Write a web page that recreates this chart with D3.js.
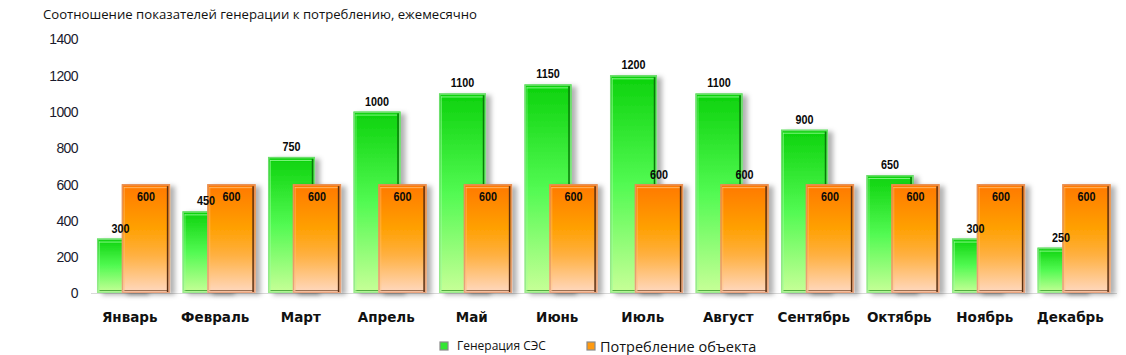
<!DOCTYPE html>
<html><head><meta charset="utf-8">
<script src="https://cdn.jsdelivr.net/npm/d3@7/dist/d3.min.js"></script>
<style>
html,body{margin:0;padding:0;background:#fff;}
svg{display:block;}
</style></head>
<body>
<script>
const months = ["Январь","Февраль","Март","Апрель","Май","Июнь","Июль","Август","Сентябрь","Октябрь","Ноябрь","Декабрь"];
const generation = [300,450,750,1000,1100,1150,1200,1100,900,650,300,250];
const consumption = [600,600,600,600,600,600,600,600,600,600,600,600];
const yTicks = [0,200,400,600,800,1000,1200,1400];
const consumptionLabelAbove = ["Июль","Август"];
const titleText = "Соотношение показателей генерации к потреблению, ежемесячно";
const legendLabels = ["Генерация СЭС","Потребление объекта"];

const W = 1126, H = 355;
const svg = d3.select("body").append("svg").attr("width", W).attr("height", H);
const defs = svg.append("defs");

function grad(id, stops){
  const g = defs.append("linearGradient").attr("id", id).attr("x1",0).attr("y1",0).attr("x2",0).attr("y2",1);
  stops.forEach(s => g.append("stop").attr("offset", s[0]).attr("stop-color", s[1]));
}
grad("gGreen", [[0,"#0cd20c"],[0.5,"#52fa52"],[1,"#c8ff98"]]);
grad("gOrange", [[0,"#ff7800"],[0.4,"#ffa000"],[0.65,"#ffb040"],[1,"#ffd9c2"]]);
const f = defs.append("filter").attr("id","shadow").attr("x","-20%").attr("y","-20%").attr("width","160%").attr("height","140%");
f.append("feDropShadow").attr("dx",5).attr("dy",2).attr("stdDeviation",2.5).attr("flood-color","#000").attr("flood-opacity",0.3);

const x = d3.scaleBand().domain(months).range([91, 1117]).padding(0);
const y = d3.scaleLinear().domain([0, 1400]).range([293, 39]);
const bw = x.bandwidth();

// title
svg.append("text").attr("x", 43).attr("y", 19)
  .attr("font-family", "'Open Sans', 'Noto Sans', sans-serif").attr("font-size", 12.5)
  .attr("fill", "#111").text(titleText)
  .attr("textLength", 434).attr("lengthAdjust","spacingAndGlyphs");

// y axis labels
const yAxis = d3.axisLeft(y).tickValues(yTicks).tickFormat(d3.format("d")).tickSize(0).tickPadding(0);
const ya = svg.append("g").attr("transform", "translate(78,0)").call(yAxis);
ya.select(".domain").remove();
ya.selectAll("text").attr("font-family","'Liberation Sans', Arial, sans-serif").attr("font-size", 14)
  .attr("fill","#1a1a2e").attr("dy","0.35em").attr("letter-spacing","-0.6");

// baseline
svg.append("line").attr("x1", 91).attr("x2", 1117).attr("y1", 293.5).attr("y2", 293.5)
  .attr("stroke", "#d9d9d9").attr("stroke-width", 1);

function bar(g, x0, w, v, fill, edgeLight, edgeDark, outer){
  const top = y(v), h = y(0) - top;
  const grp = g.append("g");
  grp.append("rect").attr("x", x0).attr("y", top).attr("width", w).attr("height", h)
    .attr("fill", fill).attr("filter","url(#shadow)");
  grp.append("rect").attr("x", x0+0.75).attr("y", top+0.75).attr("width", w-1.5).attr("height", h-1.5)
    .attr("fill","none").attr("stroke", outer).attr("stroke-width",1.5);
  grp.append("line").attr("x1", x0+2).attr("x2", x0+w-3).attr("y1", top+3.5).attr("y2", top+3.5)
    .attr("stroke", edgeLight).attr("stroke-width",1).attr("opacity",0.8);
  grp.append("line").attr("x1", x0+w-2.5).attr("x2", x0+w-2.5).attr("y1", top+2).attr("y2", y(0)-1)
    .attr("stroke", edgeDark).attr("stroke-width",1.5);
  grp.append("line").attr("x1", x0+2).attr("x2", x0+w-2).attr("y1", y(0)-2.5).attr("y2", y(0)-2.5)
    .attr("stroke", edgeDark).attr("stroke-width",1).attr("opacity",0.6);
  grp.append("line").attr("x1", x0+2.5).attr("x2", x0+2.5).attr("y1", top+3).attr("y2", y(0)-2)
    .attr("stroke", edgeLight).attr("stroke-width",1).attr("opacity",0.5);
}

const gx = d => x(d) + bw*0.07;
const gw = bw*0.55;
const ox = d => x(d) + bw*0.36;
const ow = bw*0.565;

const bars = svg.append("g");
months.forEach((m,i) => {
  bar(bars, gx(m), gw, generation[i], "url(#gGreen)", "#9dff9d", "#0a7a0a", "rgba(140,225,140,0.75)");
});
months.forEach((m,i) => {
  bar(bars, ox(m), ow, consumption[i], "url(#gOrange)", "#ffc27a", "#5a2e10", "rgba(225,150,110,0.8)");
});

// value labels (narrow bold)
const lblFont = "'Liberation Sans', Arial, sans-serif";
function vlabel(cx, cy, txt){
  svg.append("text").attr("transform", `translate(${cx},${cy}) scale(0.8,1)`)
    .attr("text-anchor","middle").attr("font-family", lblFont).attr("font-weight","bold")
    .attr("font-size", 13.5).attr("fill","#0a0a0a").text(txt);
}
months.forEach((m,i) => {
  vlabel(gx(m)+gw/2, y(generation[i]) - 6, generation[i]);
  const above = consumptionLabelAbove.includes(m);
  vlabel(ox(m)+ow/2, above ? y(consumption[i]) - 5 : y(consumption[i]) + 17, consumption[i]);
});

// x labels
const xAxis = d3.axisBottom(x).tickSize(0).tickPadding(0);
const xa = svg.append("g").attr("transform","translate(-4,312)").call(xAxis);
xa.select(".domain").remove();
xa.selectAll("text").attr("font-family","'DejaVu Sans', Verdana, sans-serif").attr("font-weight","bold")
  .attr("font-size", 13.5).attr("fill","#111").attr("dy","0.71em");

// legend
const lg = svg.append("g");
function swatch(xp, yp, c1, c2){
  lg.append("rect").attr("x", xp).attr("y", yp).attr("width", 8).attr("height", 8)
    .attr("fill", c1).attr("stroke", c2).attr("stroke-width", 1.2);
}
swatch(440, 342, "#33e633", "#8a8a8a");
lg.append("text").attr("x", 457).attr("y", 350).attr("font-family","'Open Sans', 'Noto Sans', sans-serif")
  .attr("font-size", 12).attr("fill","#111").text(legendLabels[0]);
swatch(587, 342, "#ff9a10", "#8a8a8a");
lg.append("text").attr("x", 600).attr("y", 352).attr("font-family","'Open Sans', 'Noto Sans', sans-serif")
  .attr("font-size", 14.5).attr("fill","#111").text(legendLabels[1]);
</script>
</body></html>
